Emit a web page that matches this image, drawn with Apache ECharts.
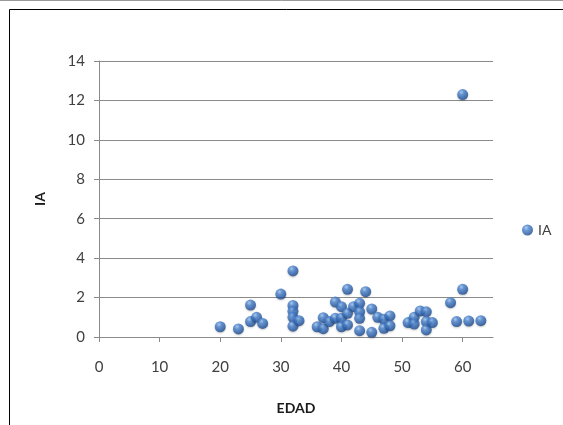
<!DOCTYPE html>
<html>
<head>
<meta charset="utf-8">
<script src="https://cdn.jsdelivr.net/npm/echarts@6/dist/echarts.min.js"></script>
<style>
  html, body { margin: 0; padding: 0; background: #fff; }
  #chart { width: 563px; height: 425px; }
</style>
</head>
<body>
<div id="chart"></div>
<script>
// Age (EDAD) against index (IA)
const edad = [
  20, 23, 25, 25, 26, 27, 30, 32, 32, 32, 32, 32, 33, 36, 37, 37, 38, 39, 39,
  40, 41, 40, 40, 41, 41, 42, 43, 43, 43, 44, 43, 45, 45, 46, 47, 47, 48, 48,
  51, 52, 52, 53, 54, 54, 54, 55, 58, 60, 59, 61, 63, 60
];
const ia = [
  0.52, 0.41, 1.62, 0.78, 1.0, 0.69, 2.18, 3.35, 1.6, 1.3, 1.0, 0.55, 0.83, 0.52, 0.98, 0.42, 0.78, 1.77, 0.95,
  1.54, 2.42, 0.95, 0.52, 1.2, 0.61, 1.54, 1.71, 1.28, 0.95, 2.3, 0.32, 1.42, 0.24, 1.0, 0.9, 0.44, 1.07, 0.57,
  0.73, 1.0, 0.66, 1.32, 1.28, 0.78, 0.36, 0.73, 1.74, 2.42, 0.78, 0.81, 0.83, 12.3
];
const seriesName = 'IA';
const xTitle = 'EDAD';
const yTitle = 'IA';

const points = edad.map((x, i) => [x, ia[i]]);

// glossy sphere look for the markers
const ballFill = {
  type: 'radial', x: 0.38, y: 0.3, r: 0.75,
  colorStops: [
    { offset: 0, color: '#9fc6f2' },
    { offset: 0.3, color: '#4a84d0' },
    { offset: 0.75, color: '#2659a3' },
    { offset: 1, color: '#1b4480' }
  ]
};

const font = 'Lato, "Open Sans", sans-serif';
const chart = echarts.init(document.getElementById('chart'));
chart.setOption({
  backgroundColor: '#ffffff',
  animation: false,
  graphic: [
    { type: 'rect', shape: { x: 9.5, y: 9.5, width: 600, height: 500 },
      style: { fill: 'none', stroke: '#000000', lineWidth: 1 }, z: -1 },
    { type: 'line', shape: { x1: 0, y1: 0.5, x2: 563, y2: 0.5 },
      style: { stroke: '#9a9a9a', lineWidth: 1 }, z: -1 }
  ],
  grid: { left: 99, right: 70, top: 61, bottom: 88 },
  legend: {
    data: [seriesName],
    left: 517, top: 218,
    icon: 'circle', itemWidth: 11, itemHeight: 11, itemGap: 4,
    textStyle: { color: '#404040', fontSize: 14, fontFamily: font }
  },
  xAxis: {
    type: 'value', min: 0, max: 65, interval: 10,
    name: xTitle, nameLocation: 'middle', nameGap: 64,
    nameTextStyle: { color: '#1a1a1a', fontSize: 14, fontWeight: 'bold', fontFamily: font },
    axisLine: { show: true, lineStyle: { color: '#8a8a8a' } },
    axisTick: { show: true, length: 5, lineStyle: { color: '#8a8a8a' } },
    axisLabel: { margin: 23, color: '#404040', fontSize: 15, fontFamily: font, showMaxLabel: false },
    splitLine: { show: false }
  },
  yAxis: {
    type: 'value', min: 0, max: 14, interval: 2,
    name: yTitle, nameLocation: 'middle', nameGap: 52, nameRotate: 90,
    nameTextStyle: { color: '#1a1a1a', fontSize: 14, fontWeight: 'bold', fontFamily: font },
    axisLine: { show: true, lineStyle: { color: '#8a8a8a' } },
    axisTick: { show: true, length: 5, lineStyle: { color: '#8a8a8a' } },
    axisLabel: { margin: 14, color: '#404040', fontSize: 15, fontFamily: font },
    splitLine: { show: true, lineStyle: { color: '#8a8a8a', width: 1 } }
  },
  series: [{
    name: seriesName,
    type: 'scatter',
    symbol: 'circle',
    symbolSize: 11,
    itemStyle: { color: ballFill, shadowColor: 'rgba(0,0,0,0.25)', shadowBlur: 2, shadowOffsetY: 1 },
    data: points
  }]
});
</script>
</body>
</html>
